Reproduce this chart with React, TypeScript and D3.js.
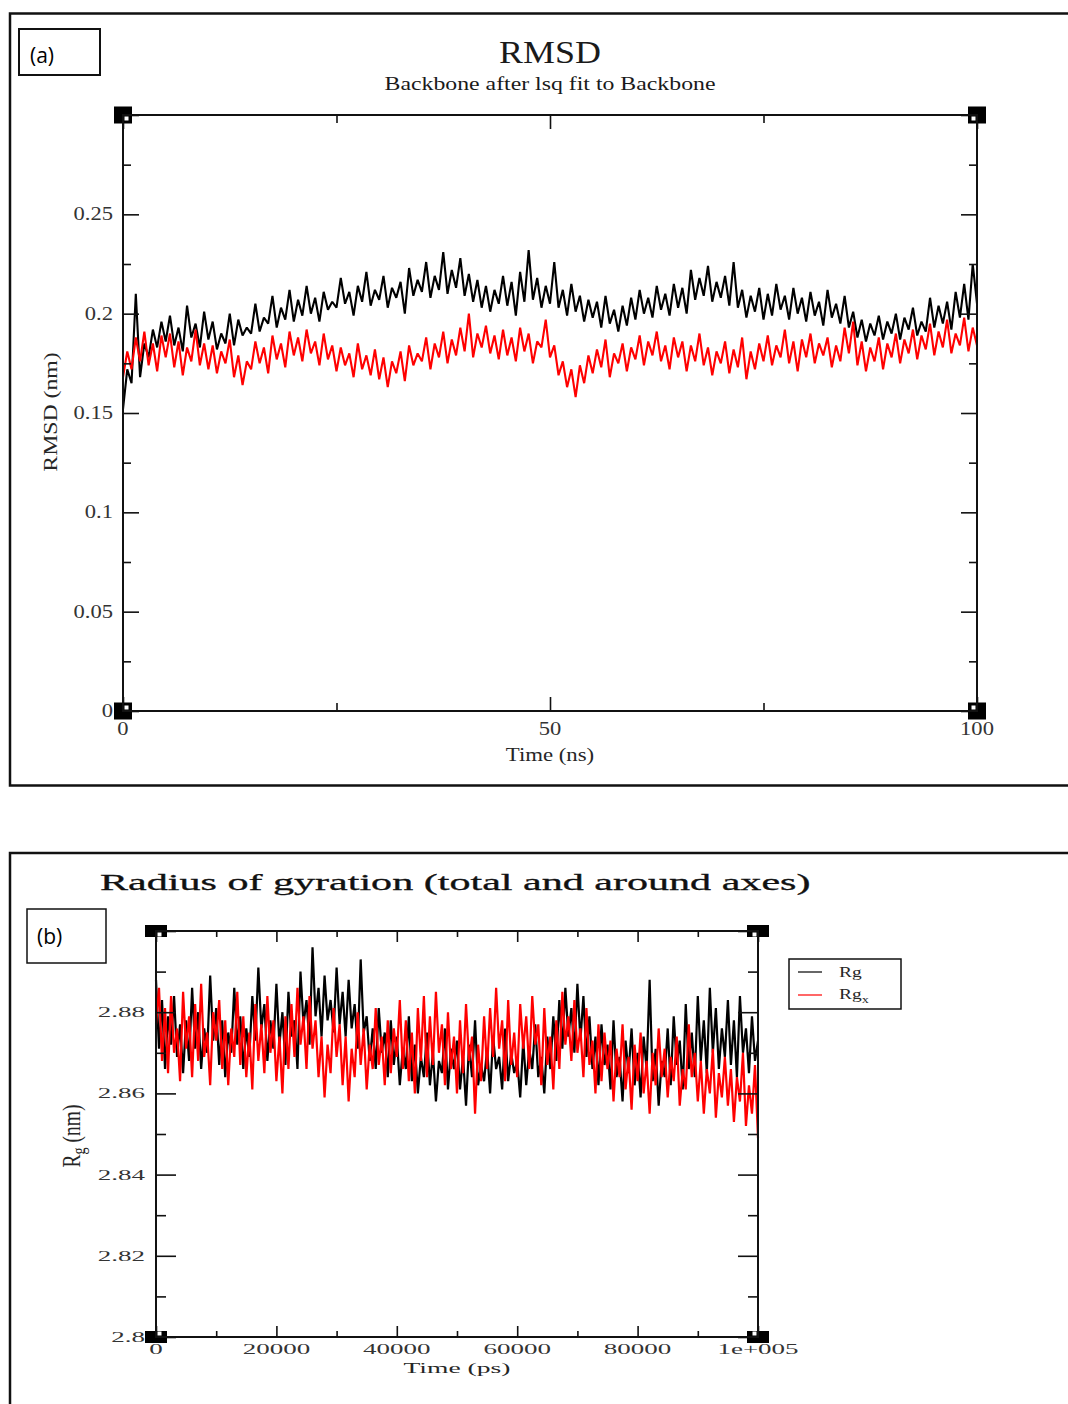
import React, { useEffect, useRef } from "react";
import * as d3 from "d3";

// ---- panel (a): RMSD, one frame every 0.5 ns ----
const rmsdStepNs = 0.5;
// black set
const rmsdBlack = [
  0.152, 0.172, 0.165, 0.21, 0.168, 0.185, 0.178, 0.192, 0.183, 0.196,
  0.186, 0.199, 0.184, 0.193, 0.181, 0.204, 0.188, 0.195, 0.183, 0.201,
  0.187, 0.196, 0.182, 0.19, 0.185, 0.2, 0.184, 0.197, 0.189, 0.193,
  0.19, 0.205, 0.191, 0.198, 0.195, 0.209, 0.193, 0.203, 0.197, 0.212,
  0.196, 0.207, 0.199, 0.214, 0.2, 0.208, 0.196, 0.211, 0.202, 0.206,
  0.203, 0.218, 0.205, 0.211, 0.199, 0.214, 0.206, 0.221, 0.204, 0.212,
  0.207, 0.219, 0.203, 0.213, 0.208, 0.216, 0.2, 0.223, 0.209, 0.217,
  0.211, 0.226, 0.208, 0.219, 0.212, 0.231, 0.21, 0.222, 0.213, 0.228,
  0.209, 0.22, 0.206, 0.217, 0.203, 0.214, 0.201, 0.212, 0.205, 0.219,
  0.204, 0.216, 0.199, 0.221, 0.206, 0.232, 0.207, 0.218, 0.203, 0.214,
  0.205, 0.226, 0.203, 0.212, 0.199, 0.215, 0.201, 0.209, 0.196, 0.207,
  0.198, 0.206, 0.193, 0.209, 0.195, 0.202, 0.191, 0.204, 0.194, 0.208,
  0.197, 0.212, 0.2, 0.208, 0.198, 0.214, 0.202, 0.21, 0.199, 0.215,
  0.203, 0.213, 0.2, 0.222, 0.207, 0.218, 0.209, 0.224, 0.206, 0.216,
  0.208, 0.219, 0.204, 0.226, 0.203, 0.212, 0.198, 0.209, 0.201, 0.213,
  0.197, 0.21, 0.199, 0.215, 0.202, 0.209, 0.197, 0.213, 0.2, 0.208,
  0.196, 0.211, 0.199, 0.206, 0.194, 0.212, 0.198, 0.205, 0.195, 0.209,
  0.193, 0.201, 0.188, 0.197, 0.186, 0.195, 0.189, 0.199, 0.187, 0.196,
  0.19, 0.2, 0.187, 0.198, 0.192, 0.203, 0.189, 0.196, 0.191, 0.208,
  0.193, 0.204, 0.195, 0.206, 0.192, 0.211, 0.198, 0.215, 0.197, 0.225,
  0.205,
];
// red set
const rmsdRed = [
  0.168, 0.181, 0.172, 0.188, 0.176, 0.191, 0.174, 0.185, 0.171, 0.189,
  0.178, 0.19, 0.173, 0.186, 0.169, 0.183, 0.176, 0.192, 0.174, 0.185,
  0.172, 0.184, 0.17, 0.181, 0.175, 0.187, 0.168, 0.179, 0.164, 0.176,
  0.172, 0.186, 0.175, 0.183, 0.17, 0.189, 0.177, 0.185, 0.173, 0.191,
  0.179, 0.188, 0.176, 0.192, 0.18, 0.186, 0.174, 0.19, 0.177, 0.184,
  0.171, 0.183, 0.174, 0.18, 0.168, 0.185, 0.172, 0.179, 0.169, 0.182,
  0.167, 0.178, 0.163, 0.176, 0.17, 0.181, 0.166, 0.184, 0.174, 0.18,
  0.176, 0.188, 0.172, 0.185, 0.178, 0.191, 0.175, 0.187, 0.179, 0.193,
  0.181, 0.2, 0.178, 0.19, 0.183, 0.194, 0.18, 0.189, 0.177, 0.192,
  0.179, 0.188, 0.176, 0.193, 0.181, 0.19, 0.175, 0.186, 0.183, 0.197,
  0.178, 0.184, 0.169, 0.176, 0.163, 0.172, 0.158, 0.174, 0.165, 0.179,
  0.17, 0.182, 0.173, 0.187, 0.168, 0.18, 0.175, 0.185, 0.171, 0.183,
  0.177, 0.189, 0.174, 0.186, 0.179, 0.191, 0.176, 0.184, 0.172, 0.188,
  0.178, 0.186, 0.171, 0.184, 0.176, 0.19, 0.174, 0.183, 0.169, 0.181,
  0.175, 0.186, 0.17, 0.182, 0.173, 0.188, 0.167, 0.181, 0.172, 0.185,
  0.176, 0.189, 0.174, 0.184, 0.178, 0.192, 0.175, 0.186, 0.171, 0.187,
  0.178, 0.19, 0.175, 0.185, 0.179, 0.188, 0.173, 0.184, 0.176, 0.193,
  0.18, 0.196, 0.174, 0.186, 0.171, 0.183, 0.176, 0.188, 0.172, 0.185,
  0.178, 0.19, 0.175, 0.187, 0.18, 0.192, 0.177, 0.189, 0.182, 0.195,
  0.179, 0.191, 0.183, 0.197, 0.18, 0.19, 0.184, 0.198, 0.181, 0.193,
  0.184,
];
const rmsdXMajor = [0, 50, 100];
const rmsdXMinor = [25, 75];
const rmsdXLabels = ["0", "50", "100"];
const rmsdYMajor = [0, 0.05, 0.1, 0.15, 0.2, 0.25, 0.3];
const rmsdYMinor = [0.025, 0.075, 0.125, 0.175, 0.225, 0.275];
const rmsdYLabels = ["0", "0.05", "0.1", "0.15", "0.2", "0.25"];

// ---- panel (b): radius of gyration, one frame every 500 ps ----
const rgStepPs = 500;
const rgTotal = [
  2.888, 2.871, 2.883, 2.866, 2.879, 2.872, 2.884, 2.869, 2.877, 2.865,
  2.878, 2.868, 2.886, 2.871, 2.88, 2.866, 2.876, 2.87, 2.889, 2.873,
  2.881, 2.867, 2.878, 2.864, 2.875, 2.87, 2.886, 2.872, 2.879, 2.866,
  2.876, 2.869, 2.884, 2.873, 2.891, 2.876, 2.882, 2.868, 2.878, 2.871,
  2.887, 2.872, 2.88, 2.867, 2.885, 2.874, 2.878, 2.866, 2.89, 2.877,
  2.883, 2.872, 2.896, 2.879, 2.886, 2.874, 2.889, 2.878, 2.883, 2.875,
  2.891, 2.877, 2.885, 2.874, 2.888, 2.876, 2.882, 2.871, 2.893, 2.875,
  2.879, 2.868, 2.876, 2.866, 2.881, 2.87, 2.875, 2.864, 2.878, 2.867,
  2.874, 2.862, 2.871, 2.866, 2.879, 2.863, 2.872, 2.86, 2.869, 2.864,
  2.875, 2.862, 2.87, 2.858, 2.868, 2.865, 2.876, 2.861, 2.871, 2.866,
  2.873, 2.861, 2.869, 2.857, 2.872, 2.864, 2.878, 2.862, 2.867, 2.863,
  2.871, 2.86, 2.874, 2.866, 2.869, 2.861, 2.876, 2.863, 2.87, 2.865,
  2.868, 2.859, 2.873, 2.862, 2.871, 2.866, 2.877, 2.864, 2.869, 2.86,
  2.874, 2.866, 2.879, 2.868, 2.883, 2.871, 2.886, 2.874, 2.881, 2.87,
  2.887, 2.873, 2.884, 2.869, 2.879, 2.866, 2.874, 2.862, 2.877, 2.867,
  2.872, 2.861, 2.878, 2.864, 2.869, 2.858, 2.873, 2.865, 2.876, 2.862,
  2.87, 2.859, 2.874, 2.866, 2.888, 2.863, 2.871, 2.857, 2.868, 2.864,
  2.876, 2.862, 2.879, 2.867, 2.873, 2.861, 2.882, 2.866, 2.875, 2.864,
  2.884, 2.868, 2.878, 2.865, 2.886, 2.87, 2.881, 2.866, 2.876, 2.869,
  2.883, 2.867, 2.878, 2.864, 2.884, 2.87, 2.876, 2.865, 2.879, 2.868,
  2.873,
];
const rgAroundX = [
  2.877, 2.886, 2.868, 2.881, 2.865, 2.884, 2.87, 2.876, 2.863, 2.885,
  2.871, 2.879, 2.864, 2.882, 2.868, 2.887, 2.869, 2.875, 2.862, 2.88,
  2.873, 2.883, 2.866, 2.878, 2.862, 2.876, 2.869, 2.885, 2.867, 2.879,
  2.864, 2.875, 2.861, 2.882, 2.868, 2.877, 2.865, 2.884, 2.87, 2.878,
  2.863, 2.874, 2.86, 2.879, 2.866, 2.882, 2.869, 2.886, 2.872, 2.879,
  2.866, 2.884, 2.871, 2.878, 2.864, 2.874, 2.859, 2.872, 2.865, 2.881,
  2.869, 2.877, 2.862, 2.874, 2.858, 2.871, 2.864, 2.88, 2.867, 2.876,
  2.861, 2.872, 2.866, 2.881, 2.867, 2.874, 2.862, 2.878, 2.865, 2.876,
  2.869, 2.883, 2.866, 2.878, 2.863, 2.875, 2.86, 2.881, 2.868, 2.884,
  2.864, 2.879, 2.867, 2.885, 2.87, 2.877, 2.862, 2.88, 2.866, 2.874,
  2.86, 2.878, 2.865, 2.882, 2.868, 2.874, 2.855, 2.872, 2.863, 2.879,
  2.866, 2.881, 2.869, 2.886, 2.871, 2.878, 2.863, 2.883, 2.867, 2.875,
  2.864, 2.882, 2.871, 2.879, 2.866, 2.884, 2.872, 2.877, 2.862, 2.881,
  2.867, 2.874, 2.861, 2.878, 2.866, 2.885, 2.872, 2.879, 2.868, 2.883,
  2.87, 2.876, 2.864, 2.881, 2.867, 2.873, 2.86, 2.877, 2.863, 2.875,
  2.866, 2.873, 2.858, 2.871, 2.864, 2.877, 2.861, 2.869, 2.856, 2.872,
  2.863, 2.875, 2.86, 2.868, 2.855, 2.87, 2.862, 2.876, 2.864, 2.871,
  2.859, 2.869, 2.863, 2.874, 2.857, 2.866, 2.861, 2.877, 2.864, 2.87,
  2.858, 2.868, 2.855, 2.866, 2.86, 2.871, 2.854, 2.865, 2.859, 2.869,
  2.857, 2.866, 2.853, 2.864, 2.858, 2.87, 2.852, 2.862, 2.855, 2.867,
  2.849,
];
const rgXMajor = [0, 20000, 40000, 60000, 80000, 100000];
const rgXMinor = [10000, 30000, 50000, 70000, 90000];
const rgXLabels = ["0", "20000", "40000", "60000", "80000", "1e+005"];
const rgYMajor = [2.8, 2.82, 2.84, 2.86, 2.88, 2.9];
const rgYMinor = [2.81, 2.83, 2.85, 2.87, 2.89];
const rgYLabels = ["2.8", "2.82", "2.84", "2.86", "2.88"];

const SERIF = "'Liberation Serif', 'DejaVu Serif', serif";
const SANS = "'Open Sans', 'Liberation Sans', sans-serif";

// text stretched horizontally (the source image is squashed/stretched)
const stretchText = (parent, x, y, str, size, sx, anchor = "middle", fill = "#262626") =>
  parent
    .append("text")
    .attr("transform", `translate(${x},${y}) scale(${sx},1)`)
    .attr("text-anchor", anchor)
    .attr("font-family", SERIF)
    .attr("font-size", size)
    .attr("fill", fill)
    .text(str);

// Grace-like frame: inward ticks on all four sides + corner squares
const drawFrame = (g, x, y, o) => {
  const [x0, x1] = x.range();
  const [yb, yt] = y.range();
  const tickStyle = (sel) => {
    sel.select(".domain").remove();
    sel.selectAll("line").attr("stroke", "#111").attr("stroke-width", 1.6);
  };
  const axes = [
    [d3.axisBottom, `translate(0,${yb})`, o.xMajor, o.xMinor, o.xLen, x],
    [d3.axisTop, `translate(0,${yt})`, o.xMajor, o.xMinor, o.xLen, x],
    [d3.axisLeft, `translate(${x0},0)`, o.yMajor, o.yMinor, o.yLen, y],
    [d3.axisRight, `translate(${x1},0)`, o.yMajor, o.yMinor, o.yLen, y],
  ];
  axes.forEach(([mk, tr, major, minor, len, sc]) => {
    g.append("g").attr("transform", tr)
      .call(mk(sc).tickValues(major).tickSize(-len[0]).tickSizeOuter(0).tickFormat(() => ""))
      .call(tickStyle);
    g.append("g").attr("transform", tr)
      .call(mk(sc).tickValues(minor).tickSize(-len[1]).tickSizeOuter(0).tickFormat(() => ""))
      .call(tickStyle);
  });

  const [sw, sh] = o.corner;
  [[x0, yt, 1, 1], [x1, yt, -1, 1], [x0, yb, 1, -1], [x1, yb, -1, -1]].forEach(([cx, cy, dx, dy]) => {
    g.append("rect")
      .attr("x", cx - sw / 2).attr("y", cy - sh / 2)
      .attr("width", sw).attr("height", sh).attr("fill", "#000");
    g.append("rect")
      .attr("x", dx > 0 ? cx + 1.5 : cx - 5.5).attr("y", dy > 0 ? cy + 1.5 : cy - 5.5)
      .attr("width", 4).attr("height", 4).attr("fill", "#fff");
  });
  g.append("rect")
    .attr("x", x0).attr("y", yt)
    .attr("width", x1 - x0).attr("height", yb - yt)
    .attr("fill", "none").attr("stroke", "#111").attr("stroke-width", 2);
};

const drawTrace = (g, values, step, x, y, color, width) => {
  const line = d3
    .line<number>()
    .x((_, i) => x(i * step))
    .y((d) => y(d));
  g.append("path")
    .datum(values)
    .attr("d", line)
    .attr("fill", "none")
    .attr("stroke", color)
    .attr("stroke-width", width)
    .attr("stroke-linejoin", "bevel");
};

const App = () => {
  const svgRef = useRef(null);

  useEffect(() => {
    const svg = d3.select(svgRef.current);
    svg.selectAll("*").remove();

    svg.append("rect").attr("width", 1068).attr("height", 1404).attr("fill", "#fff");

    // ===== panel (a) =====
    svg.append("rect")
      .attr("x", 10).attr("y", 13.5).attr("width", 1080).attr("height", 772)
      .attr("fill", "none").attr("stroke", "#111").attr("stroke-width", 2.5);
    svg.append("rect")
      .attr("x", 19).attr("y", 29).attr("width", 81).attr("height", 46)
      .attr("fill", "none").attr("stroke", "#111").attr("stroke-width", 2);
    svg.append("text")
      .attr("x", 30).attr("y", 63)
      .attr("font-family", SANS).attr("font-size", 21).attr("fill", "#000")
      .text("(a)");

    const xA = d3.scaleLinear().domain([0, 100]).range([123, 977]);
    const yA = d3.scaleLinear().domain([0, 0.3]).range([711, 115]);
    const gA = svg.append("g");

    drawTrace(gA, rmsdBlack, rmsdStepNs, xA, yA, "#000", 2.1);
    drawTrace(gA, rmsdRed, rmsdStepNs, xA, yA, "#ff0000", 2.1);
    drawFrame(gA, xA, yA, {
      xMajor: rmsdXMajor, xMinor: rmsdXMinor, xLen: [14, 8],
      yMajor: rmsdYMajor, yMinor: rmsdYMinor, yLen: [16, 8],
      corner: [18, 17],
    });

    rmsdYLabels.forEach((t, i) => {
      stretchText(gA, 113, yA(rmsdYMajor[i]) + 6, t, 18.5, 1.22, "end", "#333");
    });
    rmsdXLabels.forEach((t, i) => {
      stretchText(gA, xA(rmsdXMajor[i]), 735, t, 18.5, 1.22, "middle", "#333");
    });
    stretchText(svg, 550, 63, "RMSD", 31, 1.16, "middle", "#1a1a1a");
    stretchText(svg, 550, 90, "Backbone after lsq fit to Backbone", 19.5, 1.22, "middle", "#1a1a1a");
    stretchText(svg, 550, 761, "Time (ns)", 19, 1.2);
    svg.append("text")
      .attr("transform", "translate(57,412) rotate(-90) scale(1.25,1)")
      .attr("text-anchor", "middle")
      .attr("font-family", SERIF).attr("font-size", 19).attr("fill", "#262626")
      .text("RMSD (nm)");

    // ===== panel (b) =====
    svg.append("rect")
      .attr("x", 10).attr("y", 853).attr("width", 1080).attr("height", 600)
      .attr("fill", "none").attr("stroke", "#111").attr("stroke-width", 2.5);
    svg.append("rect")
      .attr("x", 27).attr("y", 909).attr("width", 79).attr("height", 54)
      .attr("fill", "none").attr("stroke", "#111").attr("stroke-width", 1.5);
    svg.append("text")
      .attr("x", 37).attr("y", 944)
      .attr("font-family", SANS).attr("font-size", 21).attr("fill", "#000")
      .text("(b)");

    const xB = d3.scaleLinear().domain([0, 100000]).range([156, 758]);
    const yB = d3.scaleLinear().domain([2.8, 2.9]).range([1337, 931]);
    const gB = svg.append("g");

    drawTrace(gB, rgTotal, rgStepPs, xB, yB, "#000", 2.2);
    drawTrace(gB, rgAroundX, rgStepPs, xB, yB, "#ff0000", 2.2);
    drawFrame(gB, xB, yB, {
      xMajor: rgXMajor, xMinor: rgXMinor, xLen: [11, 6],
      yMajor: rgYMajor, yMinor: rgYMinor, yLen: [20, 10],
      corner: [22, 12],
    });

    rgYLabels.forEach((t, i) => {
      stretchText(gB, 145, yB(rgYMajor[i]) + 5, t, 15, 1.8, "end", "#333");
    });
    rgXLabels.forEach((t, i) => {
      stretchText(gB, xB(rgXMajor[i]), 1354, t, 15, 1.8, "middle", "#333");
    });
    const title = stretchText(svg, 100, 890, "Radius of gyration (total and around axes)", 23, 1.83, "start", "#111");
    title.attr("stroke", "#111").attr("stroke-width", 0.3);
    stretchText(svg, 457, 1373, "Time (ps)", 15, 1.84);

    const rgLabel = svg.append("text")
      .attr("transform", "translate(80,1136) rotate(-90) scale(1.3,1.7)")
      .attr("text-anchor", "middle")
      .attr("font-family", SERIF).attr("font-size", 15).attr("fill", "#262626");
    rgLabel.append("tspan").text("R");
    rgLabel.append("tspan").attr("font-size", 11).attr("dy", 3).text("g");
    rgLabel.append("tspan").attr("dy", -3).text(" (nm)");

    // legend
    const lg = svg.append("g");
    lg.append("rect")
      .attr("x", 789).attr("y", 959).attr("width", 112).attr("height", 50)
      .attr("fill", "#fff").attr("stroke", "#111").attr("stroke-width", 1.5);
    lg.append("line").attr("x1", 798).attr("x2", 822).attr("y1", 972).attr("y2", 972)
      .attr("stroke", "#000").attr("stroke-width", 1.2);
    lg.append("line").attr("x1", 798).attr("x2", 822).attr("y1", 995).attr("y2", 995)
      .attr("stroke", "#ff0000").attr("stroke-width", 1.2);
    stretchText(lg, 839, 977, "Rg", 15, 1.3, "start", "#262626");
    const rgx = lg.append("text")
      .attr("transform", "translate(839,999) scale(1.3,1)")
      .attr("font-family", SERIF).attr("font-size", 15).attr("fill", "#262626");
    rgx.append("tspan").text("Rg");
    rgx.append("tspan").attr("font-size", 11).attr("dy", 4).text("x");
  }, []);

  return (
    <svg
      ref={svgRef}
      width={1068}
      height={1404}
      style={{ position: "absolute", left: 0, top: 0, display: "block" }}
    />
  );
};

export default App;
